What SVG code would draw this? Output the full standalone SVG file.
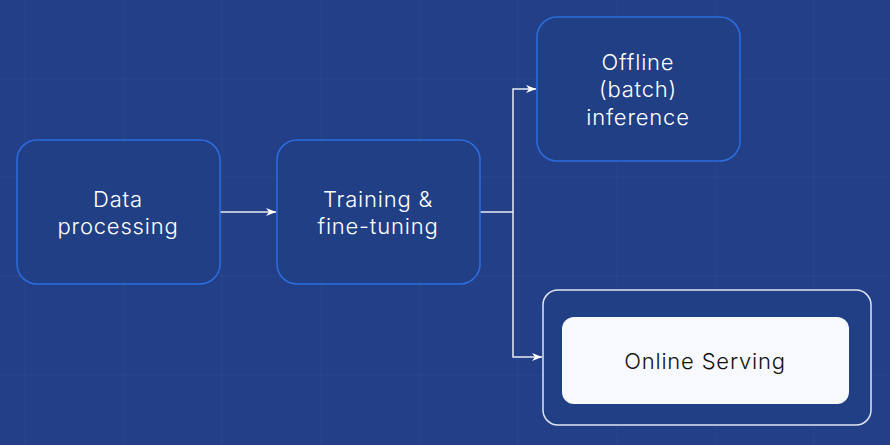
<svg xmlns="http://www.w3.org/2000/svg" width="890" height="445" viewBox="0 0 890 445">
<defs>
<style>
.bg{fill:#223f87}
.grid line{stroke:#3a5598;stroke-width:1;opacity:0.35}
.node{fill:#213f85;stroke:#2e6de0;stroke-width:1.5}
.lbl{font-family:Inter,"Noto Sans",sans-serif;font-size:22px;font-weight:300;letter-spacing:0.8px;fill:#ffffff;text-anchor:middle}
.lbl-dark{font-family:Inter,"Noto Sans",sans-serif;font-size:22px;font-weight:300;letter-spacing:0.8px;fill:#111111;text-anchor:middle}
.edge{fill:none;stroke:#e8ecf5;stroke-width:1.5}
</style>
<marker id="arr" markerWidth="12" markerHeight="10" refX="10" refY="4" orient="auto" markerUnits="userSpaceOnUse">
<path d="M0,0 L10,4 L0,8 L3,4 z" fill="#ffffff"/>
</marker>
</defs>
<rect class="bg" x="0" y="0" width="890" height="445"/>
<g class="grid">
<line x1="25" y1="0" x2="25" y2="445"/>
<line x1="124" y1="0" x2="124" y2="445"/>
<line x1="222" y1="0" x2="222" y2="445"/>
<line x1="321" y1="0" x2="321" y2="445"/>
<line x1="420" y1="0" x2="420" y2="445"/>
<line x1="518" y1="0" x2="518" y2="445"/>
<line x1="617" y1="0" x2="617" y2="445"/>
<line x1="716" y1="0" x2="716" y2="445"/>
<line x1="814" y1="0" x2="814" y2="445"/>
<line x1="0" y1="79" x2="890" y2="79"/>
<line x1="0" y1="177" x2="890" y2="177"/>
<line x1="0" y1="276" x2="890" y2="276"/>
<line x1="0" y1="375" x2="890" y2="375"/>
</g>
<g id="connectors">
<path class="edge" d="M220,212 H276" marker-end="url(#arr)"/>
<path class="edge" d="M480,212 H513 V89 H536" marker-end="url(#arr)"/>
<path class="edge" d="M513,212 V357 H542" marker-end="url(#arr)"/>
</g>
<g id="data-processing">
<rect class="node" x="17" y="140" width="203" height="144" rx="20"/>
<text class="lbl" x="118" y="207">Data</text>
<text class="lbl" x="118" y="234">processing</text>
</g>
<g id="training">
<rect class="node" x="277" y="140" width="203" height="144" rx="20"/>
<text class="lbl" x="378" y="207">Training &amp;</text>
<text class="lbl" x="378" y="234">fine-tuning</text>
</g>
<g id="offline">
<rect class="node" x="537" y="17" width="203" height="144" rx="20"/>
<text class="lbl" x="638" y="70">Offline</text>
<text class="lbl" x="638" y="97">(batch)</text>
<text class="lbl" x="638" y="125">inference</text>
</g>
<g id="online">
<rect x="543" y="290" width="328" height="135" rx="15" fill="#213f85" stroke="#dfe5f2" stroke-width="1.5"/>
<rect x="562" y="317" width="287" height="87" rx="12" fill="#f8f9fd"/>
<text class="lbl-dark" x="705" y="369">Online Serving</text>
</g>
</svg>
